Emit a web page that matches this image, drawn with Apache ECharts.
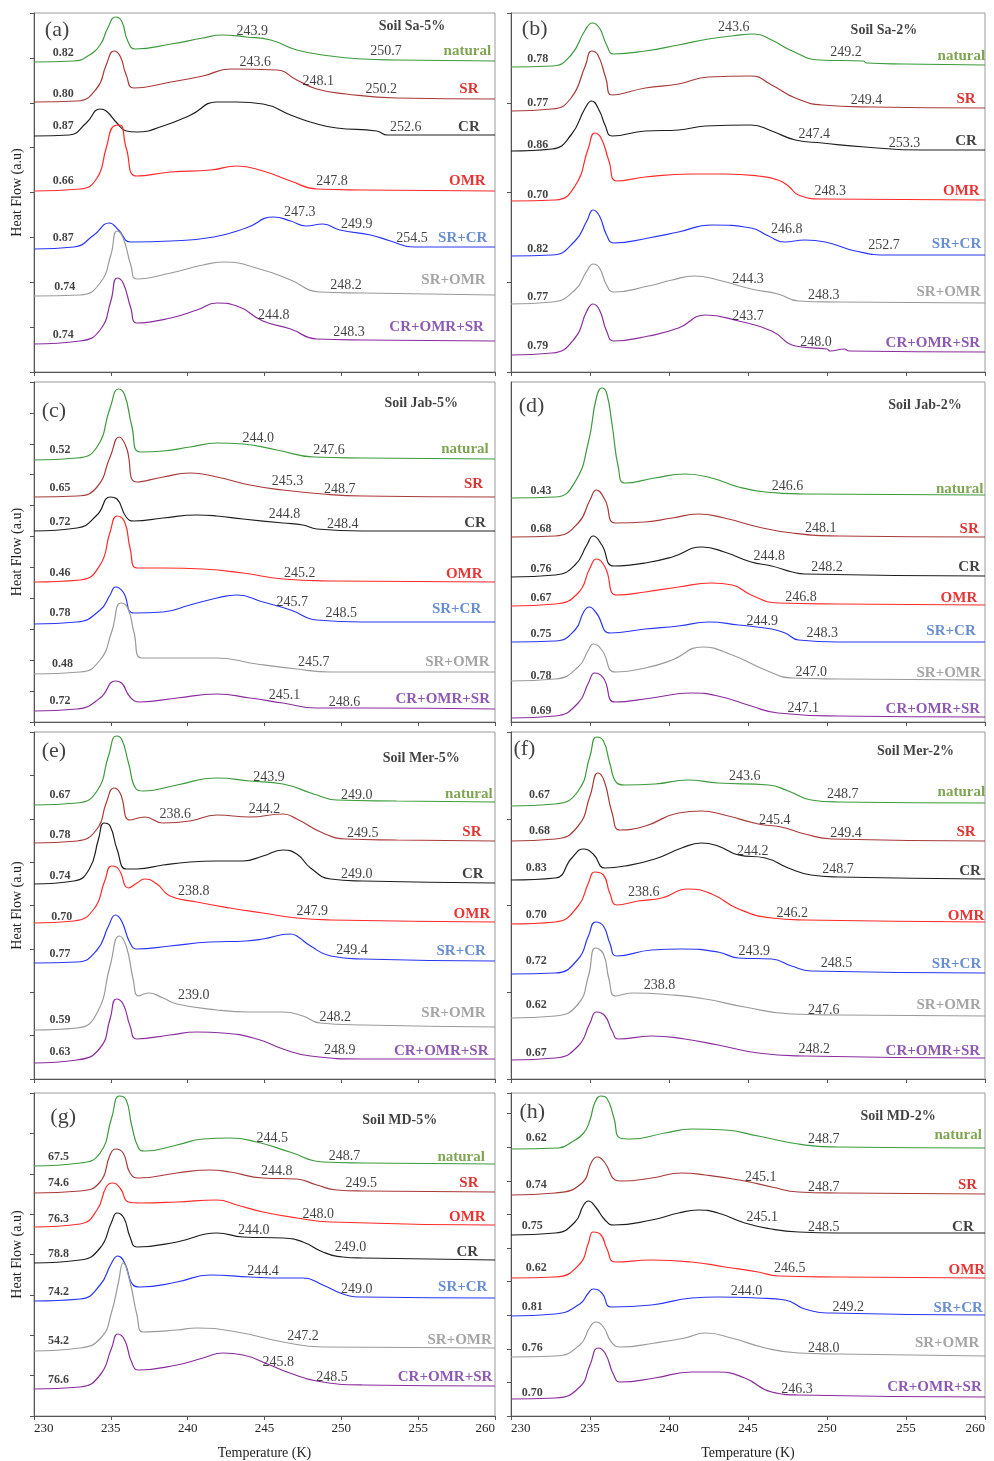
<!DOCTYPE html>
<html><head><meta charset="utf-8">
<script src="https://cdn.jsdelivr.net/npm/echarts/dist/echarts.min.js"></script>
<style>html,body{margin:0;padding:0;background:#fff}#c{width:994px;height:1461px}</style>
</head><body><div id="c"></div>
<script>
// ---------- categories / ticks ----------
const X_TICKS = [230, 235, 240, 245, 250, 255, 260];
const SAMPLES = ['natural', 'SR', 'CR', 'OMR', 'SR+CR', 'SR+OMR', 'CR+OMR+SR'];
const SAMPLES_G = ['natural', 'SR', 'OMR', 'CR', 'SR+CR', 'SR+OMR', 'CR+OMR+SR'];

// ---------- (a) Soil Sa-5% ----------
const A_natural = [[230,310],[232.6,311],[233.4,315],[234.3,327],[234.8,344],[235.3,355],[235.7,351],[236.1,331],[236.6,323],[238.9,328],[241,334],[242.2,337],[243.8,335],[245.4,332],[247.1,322],[249.3,316],[251.4,313],[253.6,312],[260,311]];
const A_SR = [[230,270],[232.8,271],[234.1,284],[234.7,307],[235.2,321],[235.6,316],[236,297],[236.5,284],[238.9,290],[241,296],[242.8,303],[245.8,302],[247.1,292],[248.4,283],[250.3,278],[253.6,274],[260,273]];
const A_CR = [[230,236],[232.3,237],[233.4,249],[234.3,263],[234.7,261],[235.4,249],[236,241],[236.7,240],[238.4,246],[240.2,257],[241.9,270],[243.2,270],[244.9,268],[246.7,257],[248.2,249],[249.7,244],[252.3,241],[253,237],[260,237]];
const A_OMR = [[230,181],[233,183],[234.1,194],[234.7,224],[235.2,246],[235.6,247],[236,224],[236.7,196],[238.9,200],[241.5,202],[243.2,206],[244.9,201],[246.7,191],[248.4,183],[251.4,182],[260,181]];
const A_SRCR = [[230,123],[232.6,125],[233.9,137],[234.9,149],[235.5,142],[236.3,130],[238.9,131],[241.7,135],[243.8,144],[245.6,155],[246.7,151],[247.7,146],[248.8,148],[249.9,142],[251.9,137],[253.2,131],[254.7,125],[260,125]];
const A_SROMR = [[230,76],[233,77],[234.3,89],[235,117],[235.4,141],[235.8,134],[236.3,107],[236.7,93],[238.9,99],[241,107],[242.3,110],[244.9,102],[246.7,92],[248.6,80],[251.4,79],[260,77]];
const A_ALL = [[230,28],[233,31],[234.3,42],[235,71],[235.4,94],[235.8,89],[236.3,64],[236.7,49],[238.9,54],[240.6,62],[241.9,69],[243.2,66],[244.9,51],[246.7,43],[248.4,33],[251.4,32],[260,31]];
const A_vals = [[231.9,319,'0.82'],[231.9,278,'0.80'],[231.9,246,'0.87'],[231.9,191,'0.66'],[231.9,134,'0.87'],[232.0,85,'0.74'],[231.9,37,'0.74']];
const A_nums = [[244.2,341,'243.9'],[252.9,321,'250.7'],[244.4,310,'243.6'],[248.5,291,'248.1'],[252.6,283,'250.2'],[254.2,245,'252.6'],[249.4,191,'247.8'],[247.3,160,'247.3'],[251.0,148,'249.9'],[254.6,134,'254.5'],[250.3,87,'248.2'],[245.6,57,'244.8'],[250.5,40,'248.3']];
const A_names = [[258.2,321],[258.3,283],[258.3,245],[258.2,191],[257.9,134],[257.3,92],[256.2,45]];

// ---------- (b) Soil Sa-2% ----------
const B_natural = [[230,305],[232.6,306],[233.8,317],[234.7,342],[235.15,349],[235.6,344],[236.05,327],[236.5,318],[238.5,321],[240.6,327],[242.5,333],[244,336],[245.4,338],[246.5,332],[247.8,321],[249.5,312],[252.3,311],[252.5,309],[254.9,308],[260,307]];
const B_SR = [[230,261],[232.6,263],[233.8,274],[234.7,306],[235.1,321],[235.5,317],[236,294],[236.4,277],[238.5,284],[240.6,288],[242.5,295],[245.2,296],[246.5,287],[248,274],[249.7,267],[252.8,265],[260,264]];
const B_CR = [[230,221],[232.6,223],[233.8,237],[234.7,264],[235.1,271],[235.6,261],[235.95,247],[236.4,236],[238.5,241],[240.6,242],[242.3,246],[245.2,247],[246.5,241],[248,232],[249.7,229],[252.4,225],[256,222],[260,222]];
const B_OMR = [[230,171],[232.8,172],[234.05,186],[234.9,224],[235.3,239],[235.7,234],[236.2,211],[236.7,191],[238.5,195],[241.4,198],[243.5,198],[245.65,196],[246.9,192],[247.55,186],[248.2,177],[249.7,173],[260,172]];
const B_SRCR = [[230,116],[232.6,117],[234.05,131],[234.8,151],[235.2,162],[235.6,156],[236.05,137],[236.5,129],[238.7,134],[240.6,140],[242.7,147],[245.2,144],[246.3,136],[247.3,130],[248.6,132],[249.9,130],[251.8,121],[253.9,117],[260,117]];
const B_SROMR = [[230,68],[232.6,70],[234.05,82],[234.8,101],[235.2,108],[235.6,104],[236.05,87],[236.5,80],[238.7,86],[240.2,92],[241.6,96],[243.1,92],[245.2,83],[246.9,78],[248.2,71],[250.7,70],[260,69]];
const B_ALL = [[230,17],[232.6,19],[234.05,34],[234.8,61],[235.2,68],[235.6,62],[236.05,41],[236.5,31],[238.7,36],[240.6,44],[242.3,57],[244.4,51],[246.5,41],[248,26],[250,23],[250.2,21],[251.1,23],[251.4,21],[260,20]];
const B_vals = [[231.7,313,'0.78'],[231.7,269,'0.77'],[231.7,227,'0.86'],[231.7,177,'0.70'],[231.7,123,'0.82'],[231.7,75,'0.77'],[231.7,26,'0.79']];
const B_nums = [[244.1,345,'243.6'],[251.2,320,'249.2'],[252.5,272,'249.4'],[249.2,238,'247.4'],[254.9,229,'253.3'],[250.2,181,'248.3'],[247.45,143,'246.8'],[253.6,127,'252.7'],[245.0,93,'244.3'],[249.8,77,'248.3'],[245.0,56,'243.7'],[249.3,30,'248.0']];
const B_names = [[258.5,316],[258.8,273],[258.8,231],[258.5,181],[258.2,128],[257.7,80],[256.7,29]];

// ---------- (c) Soil Jab-5% ----------
const C_natural = [[230,262],[232.8,264],[234.1,275],[234.95,314],[235.5,333],[235.9,327],[236.35,297],[236.9,270],[238.4,271],[240.15,275],[241.9,279],[243.6,278],[245.8,272],[248.2,265],[251.4,264],[260,263]];
const C_SR = [[230,225],[232.8,226],[234.1,235],[234.95,265],[235.55,285],[236,275],[236.7,240],[238.4,245],[240.15,249],[241.9,245],[244.05,237],[246.2,232],[248.8,228],[251.4,226],[260,225]];
const C_CR = [[230,191],[232.8,194],[234.1,207],[234.95,225],[235.4,223],[236,205],[236.5,201],[238.4,204],[240.6,207],[241.9,206],[243.6,203],[246.2,199],[247.5,197],[248.4,193],[251.4,191],[260,191]];
const C_OMR = [[230,140],[233,142],[234.3,157],[234.95,190],[235.4,206],[235.9,200],[236.25,174],[236.7,154],[238.4,154],[241,153],[243.6,149],[246.2,143],[249.3,141],[260,140]];
const C_SRCR = [[230,98],[232.8,100],[234.3,112],[234.95,127],[235.3,135],[235.8,130],[236.5,109],[238.4,110],[240.15,117],[241.9,124],[243.2,127],[244.9,120],[246.7,112],[248.4,102],[251.4,100],[260,100]];
const C_SROMR = [[230,48],[233,50],[234.3,62],[235.05,90],[235.65,119],[236.1,114],[236.5,90],[237,64],[239.3,64],[241.9,64],[244.5,58],[247.1,53],[249.3,50],[260,50]];
const C_ALL = [[230,11],[232.8,13],[234.3,24],[235.3,41],[235.7,39],[236.25,25],[236.9,20],[239.3,24],[241.9,28],[244.05,24],[246.2,19],[248.4,14],[251.4,14],[260,13]];
const C_vals = [[231.7,272,'0.52'],[231.7,234,'0.65'],[231.7,200,'0.72'],[231.7,149,'0.46'],[231.7,109,'0.78'],[231.85,58,'0.48'],[231.7,21,'0.72']];
const C_nums = [[244.6,284,'244.0'],[249.2,272,'247.6'],[246.5,241,'245.3'],[249.9,233,'248.7'],[246.3,208,'244.8'],[250.1,198,'248.4'],[247.3,149,'245.2'],[246.8,120,'245.7'],[250.0,109,'248.5'],[248.2,60,'245.7'],[246.3,27,'245.1'],[250.2,20,'248.6']];
const C_names = [[258.05,273],[258.6,238],[258.7,199],[258.0,148],[257.5,113],[257.55,60],[256.6,23]];

// ---------- (d) Soil Jab-2% ----------
const D_natural = [[230,224],[232.8,225],[234.05,240],[234.9,280],[235.4,324],[235.75,334],[236.05,329],[236.4,297],[236.8,254],[237.2,239],[239.1,244],[241,248],[242.7,244],[244.4,235],[246.1,230],[248.6,228],[260,227]];
const D_SR = [[230,185],[232.8,186],[234.25,199],[235,222],[235.4,232],[235.95,222],[236.6,199],[238.5,200],[240.2,204],[241.85,208],[243.5,204],[245.65,195],[247.8,189],[250.7,186],[260,185]];
const D_CR = [[230,145],[232.8,147],[234.05,157],[234.8,177],[235.2,186],[235.75,177],[236.5,156],[238.5,159],[240.2,165],[242.1,175],[243.5,170],[245.2,160],[246.5,156],[247.8,150],[248.6,148],[260,146]];
const D_OMR = [[230,116],[232.8,118],[234.25,129],[235,154],[235.4,163],[235.95,155],[236.7,127],[238.5,130],[240.6,135],[242.7,139],[244,137],[245.2,127],[246.9,119],[250.7,118],[260,117]];
const D_SRCR = [[230,80],[232.8,81],[234.05,92],[234.6,110],[234.95,115],[235.4,109],[236.3,89],[238.5,93],[240.6,96],[242.5,100],[244.4,97],[246.5,93],[247.35,89],[248.2,82],[250.7,80],[260,80]];
const D_SROMR = [[230,41],[232.8,43],[234.25,55],[234.9,72],[235.2,78],[235.75,72],[236.6,50],[238.5,54],[240.2,62],[242.1,75],[244,67],[246.1,52],[247.8,44],[250.7,43],[260,42]];
const D_ALL = [[230,4],[232.8,6],[234.25,19],[234.9,39],[235.3,49],[235.85,44],[236.6,20],[238.9,24],[241.4,29],[243.1,26],[245.2,16],[246.9,9],[250.7,6],[260,5]];
const D_vals = [[231.9,231,'0.43'],[231.9,193,'0.68'],[231.9,153,'0.76'],[231.9,124,'0.67'],[231.9,88,'0.75'],[231.9,46,'0.78'],[231.9,11,'0.69']];
const D_nums = [[247.5,236,'246.6'],[249.6,194,'248.1'],[246.35,166,'244.8'],[250.0,155,'248.2'],[248.35,125,'246.8'],[245.9,101,'244.9'],[249.7,89,'248.3'],[249.0,50,'247.0'],[248.5,14,'247.1']];
const D_names = [[258.4,233],[259.0,193],[259.0,155],[258.35,124],[257.85,91],[257.7,49],[256.7,13]];

// ---------- (e) Soil Mer-5% ----------
const E_natural = [[230,274],[232.8,276],[234.1,288],[234.85,323],[235.35,343],[235.7,340],[236.15,316],[236.65,290],[237.1,288],[239.3,294],[241.9,301],[244.05,298],[246.2,295],[248.2,285],[249.7,279],[253.6,278],[260,277]];
const E_SR = [[230,236],[232.8,238],[234.1,250],[234.7,276],[235.2,291],[235.6,286],[236.25,259],[237.2,262],[238.4,256],[240.15,258],[241.9,264],[244.05,262],[246.2,265],[247.1,260],[248.8,246],[250.3,240],[253.6,239],[260,238]];
const E_CR = [[230,195],[232.6,198],[233.6,210],[234.2,240],[234.55,256],[234.95,253],[235.4,230],[236,210],[236.7,210],[238.4,214],[240.15,217],[241.9,218],[243.6,218],[244.9,223],[246.2,229],[247.1,225],[248,211],[249.3,200],[251.4,198],[260,196]];
const E_OMR = [[230,156],[232.6,158],[233.9,170],[234.6,198],[235.05,213],[235.5,210],[236.15,191],[236.7,196],[237.2,200],[238,195],[238.85,183],[240.6,177],[242.75,171],[244.9,166],[247.1,161],[249.3,159],[260,157]];
const E_SRCR = [[230,116],[232.8,117],[234.1,129],[234.85,153],[235.3,164],[235.7,158],[236.25,136],[236.7,130],[238.85,133],[241.45,137],[243.8,138],[244.9,140],[246.7,145],[247.1,143],[248,133],[249.3,123],[251.4,120],[260,118]];
const E_SROMR = [[230,49],[232.8,51],[234.1,66],[234.95,113],[235.55,143],[236,133],[236.45,100],[236.8,83],[237.45,86],[238.4,81],[239.3,75],[241.9,69],[244.05,67],[246.2,67],[247.5,63],[248.6,56],[251.4,54],[260,52]];
const E_ALL = [[230,16],[232.8,19],[234.3,31],[234.95,60],[235.35,80],[235.8,75],[236.25,53],[236.7,40],[238.85,44],[240.6,47],[242.3,46],[244.5,40],[246.2,30],[248,23],[251.4,20],[260,20]];
const E_vals = [[231.7,284,'0.67'],[231.7,244,'0.78'],[231.7,203,'0.74'],[231.8,162,'0.70'],[231.7,125,'0.77'],[231.7,59,'0.59'],[231.7,27,'0.63']];
const E_nums = [[245.3,302,'243.9'],[251.0,284,'249.0'],[239.2,265,'238.6'],[245.0,270,'244.2'],[251.4,246,'249.5'],[251.0,205,'249.0'],[240.4,188,'238.8'],[248.1,168,'247.9'],[250.7,129,'249.4'],[240.4,84,'239.0'],[249.6,62,'248.2'],[249.9,29,'248.9']];
const E_names = [[258.3,285],[258.5,247],[258.55,205],[258.5,165],[257.8,128],[257.3,66],[256.5,28]];

// ---------- (f) Soil Mer-2% ----------
const F_natural = [[230,273],[232.8,275],[234.25,288],[235,323],[235.4,342],[235.85,338],[236.25,316],[236.7,296],[237.2,294],[239.1,295],[241.2,299],[243.1,296],[246.3,294],[247.55,288],[249,279],[250.7,277],[260,276]];
const F_SR = [[230,238],[232.8,240],[234.25,253],[235,283],[235.5,306],[235.9,298],[236.4,266],[236.9,249],[238.5,253],[240.6,266],[242.05,268],[243.5,264],[245.65,255],[247.1,252],[248.6,245],[250.3,240],[260,238]];
const F_CR = [[230,199],[232.8,201],[233.85,221],[234.6,230],[235.2,225],[235.95,211],[237.2,213],[239.1,220],[240.8,231],[242.05,236],[243.1,233],[244.4,224],[246.1,221],[247.55,211],[249,204],[250.7,202],[260,200]];
const F_OMR = [[230,155],[232.8,157],[234.25,173],[234.9,196],[235.3,207],[235.85,204],[236.25,186],[236.7,174],[238.05,178],[239.55,181],[241.2,190],[242.7,185],[244.4,170],[246.5,161],[248.6,159],[260,157]];
const F_SRCR = [[230,105],[232.8,106],[234.25,120],[234.9,143],[235.35,157],[235.85,153],[236.25,136],[236.7,123],[238.9,129],[240.8,130],[243.1,127],[244.4,121],[246.5,120],[247.75,113],[249,108],[260,106]];
const F_SROMR = [[230,61],[232.8,63],[234.25,75],[234.9,103],[235.35,131],[235.85,125],[236.2,100],[236.6,83],[237.65,86],[240.2,84],[242.3,80],[244.8,72],[247.75,65],[250.7,64],[260,63]];
const F_ALL = [[230,19],[232.8,21],[234.25,33],[235,56],[235.4,67],[235.95,63],[236.4,48],[236.8,40],[238.9,43],[241,40],[243.1,34],[245.65,26],[248.6,23],[260,21]];
const F_vals = [[231.8,284,'0.67'],[231.8,248,'0.68'],[231.6,211,'0.83'],[231.6,164,'0.70'],[231.6,118,'0.72'],[231.6,74,'0.62'],[231.6,26,'0.67']];
const F_nums = [[244.8,303,'243.6'],[251.0,285,'248.7'],[246.7,259,'245.4'],[251.2,246,'249.4'],[245.3,228,'244.2'],[250.7,210,'248.7'],[238.4,187,'238.6'],[247.8,166,'246.2'],[245.4,128,'243.9'],[250.6,116,'248.5'],[239.4,94,'238.8'],[249.8,69,'247.6'],[249.2,30,'248.2']];
const F_names = [[258.5,287],[258.8,247],[259.05,208],[258.8,163],[258.2,115],[257.7,74],[256.7,28]];

// ---------- (g) Soil MD-5% ----------
const G_natural = [[230,250],[233,253],[234.3,263],[235.05,298],[235.55,320],[236,316],[236.35,291],[236.8,268],[237.2,265],[239.3,271],[241,277],[242.75,278],[244.5,274],[246.65,264],[248.8,254],[251.4,253],[260,252]];
const G_SR = [[230,223],[233,225],[234.3,234],[234.95,261],[235.3,267],[235.8,263],[236.25,243],[236.8,238],[239.3,243],[241.45,246],[242.75,244],[244.9,238],[247.1,237],[248.4,231],[249.7,226],[251.4,225],[260,224]];
const G_OMR = [[230,189],[233,192],[234.1,206],[234.7,229],[235.1,233],[235.6,228],[236.15,214],[236.9,213],[239.3,214],[241.9,216],[243.2,211],[244.9,204],[247.1,198],[249.3,194],[260,191]];
const G_CR = [[230,153],[233,156],[234.3,168],[235.05,194],[235.4,203],[235.85,198],[236.25,179],[236.7,169],[239.3,174],[241.9,183],[243.6,179],[246.2,178],[247.5,174],[248.8,164],[250.1,159],[251.4,158],[260,156]];
const G_SRCR = [[230,115],[233,117],[234.3,131],[235.05,153],[235.45,160],[235.9,153],[236.45,131],[236.9,129],[239.3,134],[241.45,141],[244.05,139],[246.2,138],[247.5,138],[248.8,131],[250.1,122],[251.4,119],[260,118]];
const G_SROMR = [[230,65],[233,68],[234.4,79],[235.05,104],[235.5,134],[235.8,153],[236.25,134],[236.7,101],[237.1,84],[239.3,86],[240.6,88],[243.2,84],[246.2,74],[248.8,69],[260,68]];
const G_ALL = [[230,27],[233,29],[234.3,41],[235.05,68],[235.45,82],[235.9,76],[236.35,54],[236.8,46],[239.3,51],[241,58],[242.3,63],[243.6,61],[245.35,51],[246.65,43],[248.4,35],[251.4,31],[260,30]];
const G_vals = [[231.6,259,'67.5'],[231.6,233,'74.6'],[231.6,197,'76.3'],[231.6,162,'78.8'],[231.6,124,'74.2'],[231.6,75,'54.2'],[231.6,36,'76.6']];
const G_nums = [[245.5,278,'244.5'],[250.2,260,'248.7'],[245.8,245,'244.8'],[251.3,233,'249.5'],[248.5,202,'248.0'],[244.3,186,'244.0'],[250.6,169,'249.0'],[244.9,145,'244.4'],[251.0,127,'249.0'],[247.5,80,'247.2'],[245.9,54,'245.8'],[249.4,39,'248.5']];
const G_names = [[257.8,259],[258.3,233],[258.2,199],[258.2,164],[257.9,129],[257.7,76],[256.75,39]];

// ---------- (h) Soil MD-2% ----------
const H_natural = [[230,267],[233,268],[233.85,274],[234.6,283],[235,296],[235.3,313],[235.7,320],[236.05,318],[236.5,299],[236.9,278],[237.6,277],[239.75,283],[241.45,287],[243.55,286],[245.65,280],[248.2,272],[250.7,269],[260,268]];
const H_SR = [[230,221],[232.8,223],[234.5,233],[235.1,254],[235.45,259],[235.95,253],[236.6,236],[237,235],[238.9,238],[240.8,243],[242.3,241],[244.8,235],[246.5,229],[248.2,224],[250.7,223],[260,222]];
const H_CR = [[230,181],[232.8,183],[234.05,194],[234.6,211],[234.9,215],[235.35,209],[235.95,196],[236.5,191],[238.9,196],[240.6,203],[241.85,206],[243.1,203],[244.8,193],[246.5,187],[248.2,184],[250.7,183],[260,183]];
const H_OMR = [[230,138],[232.8,139],[234.35,152],[234.9,173],[235.2,184],[235.7,181],[236.05,168],[236.6,154],[238.9,156],[241.45,154],[243.55,149],[245.65,144],[246.9,140],[250.7,139],[260,138]];
const H_SRCR = [[230,100],[232.8,102],[234.35,112],[234.9,123],[235.2,127],[235.75,123],[236.35,109],[238.9,111],[241.45,118],[243.1,119],[245.65,118],[247.35,116],[248.6,107],[250.3,103],[260,101]];
const H_SROMR = [[230,59],[232.8,60],[234.35,71],[235,89],[235.35,94],[235.85,89],[236.35,74],[236.9,69],[239.1,73],[241,78],[242.3,83],[243.95,78],[246.1,68],[248.2,63],[250.7,62],[260,60]];
const H_ALL = [[230,17],[232.8,18],[234.35,29],[235,51],[235.5,68],[235.95,63],[236.5,41],[236.9,34],[239.1,38],[241.45,44],[243.1,44],[244.8,38],[246.5,24],[248.2,21],[260,19]];
const H_vals = [[231.6,278,'0.62'],[231.6,231,'0.74'],[231.35,190,'0.75'],[231.6,148,'0.62'],[231.35,109,'0.81'],[231.35,68,'0.76'],[231.35,23,'0.70']];
const H_nums = [[249.8,277,'248.7'],[245.8,239,'245.1'],[249.8,229,'248.7'],[245.9,199,'245.1'],[249.8,189,'248.5'],[247.65,148,'246.5'],[244.9,125,'244.0'],[251.35,109,'249.2'],[249.8,68,'248.0'],[248.1,27,'246.3']];
const H_names = [[258.3,281],[258.9,231],[258.6,189],[258.85,146],[258.3,108],[257.6,73],[256.8,29]];

// ---------- panel assembly ----------
const PANELS = [
  {col:0,row:0,order:SAMPLES,curves:[A_natural,A_SR,A_CR,A_OMR,A_SRCR,A_SROMR,A_ALL],vals:A_vals,nums:A_nums,names:A_names,title:['Soil Sa-5%',254.6,346],letter:['(a)',231.5,342],yInt:359/8},
  {col:1,row:0,order:SAMPLES,curves:[B_natural,B_SR,B_CR,B_OMR,B_SRCR,B_SROMR,B_ALL],vals:B_vals,nums:B_nums,names:B_names,title:['Soil Sa-2%',253.6,342],letter:['(b)',231.5,343],yInt:359/4},
  {col:0,row:1,order:SAMPLES,curves:[C_natural,C_SR,C_CR,C_OMR,C_SRCR,C_SROMR,C_ALL],vals:C_vals,nums:C_nums,names:C_names,title:['Soil Jab-5%',255.2,319],letter:['(c)',231.3,311],yInt:340/11},
  {col:1,row:1,order:SAMPLES,curves:[D_natural,D_SR,D_CR,D_OMR,D_SRCR,D_SROMR,D_ALL],vals:D_vals,nums:D_nums,names:D_names,title:['Soil Jab-2%',256.2,317],letter:['(d)',231.3,316],yInt:null},
  {col:0,row:2,order:SAMPLES,curves:[E_natural,E_SR,E_CR,E_OMR,E_SRCR,E_SROMR,E_ALL],vals:E_vals,nums:E_nums,names:E_names,title:['Soil Mer-5%',255.2,321],letter:['(e)',231.3,328],yInt:347/8},
  {col:1,row:2,order:SAMPLES,curves:[F_natural,F_SR,F_CR,F_OMR,F_SRCR,F_SROMR,F_ALL],vals:F_vals,nums:F_nums,names:F_names,title:['Soil Mer-2%',255.6,328],letter:['(f)',230.85,330],yInt:347/4},
  {col:0,row:3,order:SAMPLES_G,curves:[G_natural,G_SR,G_OMR,G_CR,G_SRCR,G_SROMR,G_ALL],vals:G_vals,nums:G_nums,names:G_names,title:['Soil MD-5%',253.8,296],letter:['(g)',231.9,299],yInt:323/8},
  {col:1,row:3,order:SAMPLES,curves:[H_natural,H_SR,H_CR,H_OMR,H_SRCR,H_SROMR,H_ALL],vals:H_vals,nums:H_nums,names:H_names,title:['Soil MD-2%',254.5,300],letter:['(h)',231.35,304],yInt:33.6}
];

const LINE_COLORS = {'natural':'#3c9a3c','SR':'#a83a3a','CR':'#1e1e1e','OMR':'#ff2a2a','SR+CR':'#2a36f0','SR+OMR':'#9a9a9a','CR+OMR+SR':'#8a2c9c'};
const NAME_COLORS = {'natural':'#5f8f28','SR':'#d40000','CR':'#111111','OMR':'#e60000','SR+CR':'#4472c4','SR+OMR':'#8f8f8f','CR+OMR+SR':'#7030a0'};
const SERIF = '"Liberation Serif","Times New Roman",serif';
const COL_LEFT = [34, 511], COL_W = [461, 474];
const ROW_TOP = [13, 382, 732, 1093], ROW_H = [359, 340, 347, 323];

const grids = [], xAxes = [], yAxes = [], series = [];
PANELS.forEach((p, i) => {
  const H = ROW_H[p.row];
  grids.push({left: COL_LEFT[p.col], top: ROW_TOP[p.row], width: COL_W[p.col], height: H,
    show: true, borderColor: '#9a9a9a', borderWidth: 1});
  const bottomRow = p.row === 3;
  xAxes.push({gridIndex: i, type: 'value', min: X_TICKS[0], max: X_TICKS[X_TICKS.length-1], interval: 5,
    axisLine: {onZero: false, lineStyle: {color: '#555', width: 1}},
    axisTick: {show: true, inside: false, length: 4, lineStyle: {color: '#555'}},
    axisLabel: {show: bottomRow, fontFamily: SERIF, fontSize: 13, color: '#222', margin: 6,
      alignMinLabel: 'left', alignMaxLabel: 'right'},
    splitLine: {show: false},
    name: bottomRow ? 'Temperature (K)' : '', nameLocation: 'middle', nameGap: 30,
    nameTextStyle: {fontFamily: SERIF, fontSize: 14, color: '#222'}});
  yAxes.push({gridIndex: i, type: 'value', min: 0, max: H, interval: p.yInt || H,
    axisLine: {onZero: false, lineStyle: {color: '#555', width: 1}},
    axisTick: {show: !!p.yInt, inside: false, length: 4, lineStyle: {color: '#555'}},
    axisLabel: {show: false}, splitLine: {show: false},
    name: p.col === 0 ? 'Heat Flow (a.u)' : '', nameLocation: 'middle', nameGap: 10,
    nameTextStyle: {fontFamily: SERIF, fontSize: 14, color: '#222'}});
  p.curves.forEach((d, k) => {
    series.push({type: 'line', name: p.order[k], xAxisIndex: i, yAxisIndex: i, data: d,
      smooth: 0.5, showSymbol: false, symbol: 'none', silent: true,
      lineStyle: {width: 1.2, color: LINE_COLORS[p.order[k]]}, z: 2});
  });
  const items = [];
  p.vals.forEach(([x, y, t]) => items.push({value: [x, y], label: {formatter: t, fontSize: 12, fontWeight: 'bold', color: '#111'}}));
  p.nums.forEach(([x, y, t]) => items.push({value: [x, y], label: {formatter: t, fontSize: 14, color: '#111'}}));
  p.names.forEach(([x, y], k) => items.push({value: [x, y], label: {formatter: p.order[k], fontSize: 15, fontWeight: 'bold', color: NAME_COLORS[p.order[k]]}}));
  items.push({value: [p.title[1], p.title[2]], label: {formatter: p.title[0], fontSize: 14, fontWeight: 'bold', color: '#111'}});
  items.push({value: [p.letter[1], p.letter[2]], label: {formatter: p.letter[0], fontSize: 22, color: '#111'}});
  series.push({type: 'scatter', xAxisIndex: i, yAxisIndex: i, data: items, symbolSize: 1,
    itemStyle: {color: 'rgba(0,0,0,0)'}, silent: true, z: 5,
    label: {show: true, position: 'inside', fontFamily: SERIF}});
});

const chart = echarts.init(document.getElementById('c'));
chart.setOption({animation: false, backgroundColor: '#fff', grid: grids, xAxis: xAxes, yAxis: yAxes, series: series});
</script></body></html>
